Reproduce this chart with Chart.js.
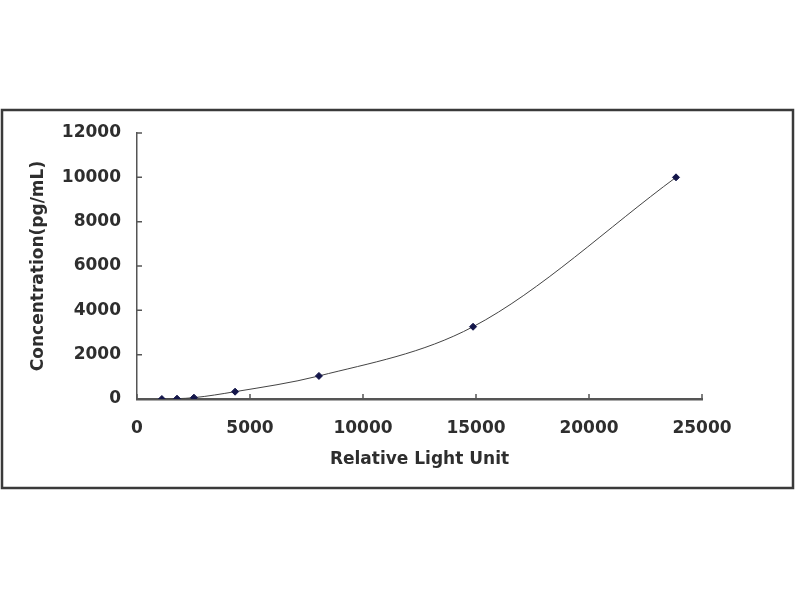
<!DOCTYPE html>
<html>
<head>
<meta charset="utf-8">
<script src="https://cdn.jsdelivr.net/npm/chart.js@4/dist/chart.umd.min.js"></script>
<style>
  html, body { margin: 0; padding: 0; background: #fff; }
  #wrap { width: 800px; height: 600px; }
</style>
</head>
<body>
<div id="wrap"><canvas id="chart" width="800" height="600"></canvas></div>
<script>
"use strict";

// standard curve readings
const rlu = [1100, 1770, 2520, 4340, 8050, 14870, 23850];
const concentration = [0, 15, 60, 330, 1040, 3260, 10000];
const xTicks = [0, 5000, 10000, 15000, 20000, 25000];
const yTicks = [0, 2000, 4000, 6000, 8000, 10000, 12000];

const TEXT = "#2e2e2e";
const AXIS = "#555555";
const FONT = "'DejaVu Sans', sans-serif";

const frame = {
  id: "frame",
  beforeDraw(chart) {
    const ctx = chart.ctx;
    ctx.save();
    ctx.fillStyle = "#fff";
    ctx.fillRect(0, 0, chart.width, chart.height);
    ctx.strokeStyle = "#3a3a3a";
    ctx.lineWidth = 2.5;
    ctx.strokeRect(2, 110, 791, 378);
    ctx.restore();
  },
  // Excel-style inward tick marks
  afterDraw(chart) {
    const ctx = chart.ctx;
    const xs = chart.scales.x;
    const ys = chart.scales.y;
    ctx.save();
    ctx.strokeStyle = AXIS;
    ctx.lineWidth = 1.5;
    ctx.beginPath();
    xTicks.forEach((v) => {
      const px = xs.getPixelForValue(v);
      ctx.moveTo(px, ys.bottom);
      ctx.lineTo(px, ys.bottom - 5);
    });
    yTicks.forEach((v) => {
      const py = ys.getPixelForValue(v);
      ctx.moveTo(xs.left, py);
      ctx.lineTo(xs.left + 5, py);
    });
    ctx.stroke();
    ctx.restore();
  },
};

const tickFont = { family: FONT, size: 17, weight: "bold" };

new Chart(document.getElementById("chart"), {
  type: "line",
  data: {
    datasets: [
      {
        data: rlu.map((x, i) => ({ x, y: concentration[i] })),
        borderColor: "#444444",
        borderWidth: 1,
        cubicInterpolationMode: "monotone",
        pointStyle: "rectRot",
        pointRadius: 3.5,
        pointBackgroundColor: "#14164a",
        pointBorderColor: "#14164a",
        fill: false,
      },
    ],
  },
  options: {
    responsive: false,
    animation: false,
    layout: { padding: { left: 24, right: 98, top: 133, bottom: 126 } },
    plugins: { legend: { display: false }, tooltip: { enabled: false } },
    scales: {
      x: {
        type: "linear",
        min: 0,
        max: 25000,
        afterBuildTicks: (s) => { s.ticks = xTicks.map((v) => ({ value: v })); },
        afterFit: (s) => { s.height = 75; },
        grid: { drawOnChartArea: false, drawTicks: false },
        border: { color: AXIS, width: 2.5 },
        ticks: { color: TEXT, padding: 19, font: tickFont, callback: (v) => String(v) },
        title: {
          display: true,
          text: "Relative Light Unit",
          color: TEXT,
          padding: { top: 1 },
          font: tickFont,
        },
      },
      y: {
        type: "linear",
        min: 0,
        max: 12000,
        afterBuildTicks: (s) => { s.ticks = yTicks.map((v) => ({ value: v })); },
        afterFit: (s) => { s.width = 113; },
        grid: { drawOnChartArea: false, drawTicks: false },
        border: { color: AXIS, width: 1.5 },
        ticks: { color: TEXT, padding: 16, font: tickFont, callback: (v) => String(v) },
        title: {
          display: true,
          text: "Concentration(pg/mL)",
          color: TEXT,
          padding: { bottom: 0 },
          font: tickFont,
        },
      },
    },
  },
  plugins: [frame],
});
</script>
</body>
</html>
